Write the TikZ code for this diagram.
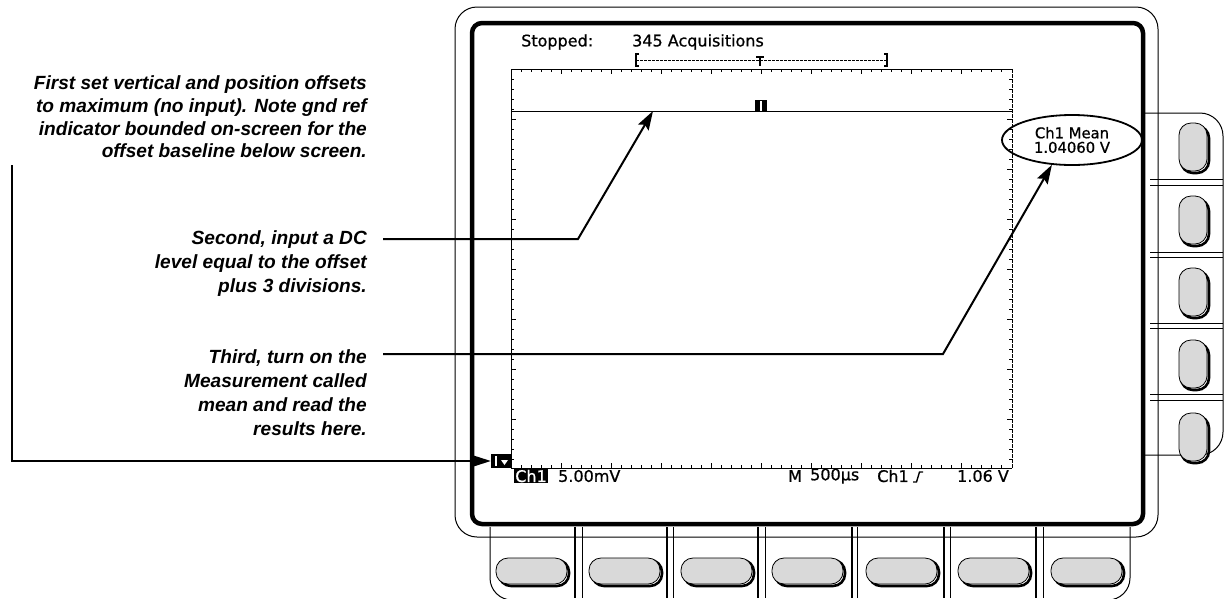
\documentclass[tikz,border=0pt]{standalone}
\usepackage{fontspec}
\setmainfont{Liberation Sans}
\newfontfamily\scrfont[FakeBold=0.8]{DejaVu Sans}
\usetikzlibrary{arrows.meta,shapes.geometric}
\tikzset{
  note/.style={font=\fontsize{19.1}{22.7}\selectfont\bfseries\itshape, align=right, inner sep=0pt},
  notewide/.style={font=\fontsize{19.1}{24}\selectfont\bfseries\itshape, align=right, inner sep=0pt},
  lead/.style={line width=2pt, -{Stealth[length=19pt,width=12pt,inset=3pt]}},
  scr/.style={font=\fontsize{16}{16}\selectfont\scrfont, inner sep=0pt},
  thinline/.style={line width=1pt},
  bezel/.style={line width=4.5pt},
  tick/.style={line width=0.7pt},
  pillshadow/.style={line width=2.6pt, rounded corners=12pt},
  pill/.style={line width=0.8pt, fill=black!15, rounded corners=12pt},
}
\begin{document}
\begin{tikzpicture}[x=1pt,y=-1pt]
\useasboundingbox (0,0) rectangle (1224,598);

% ---------- instrument body ----------
% outer thin bezel
\draw[thinline, rounded corners=22pt] (455,7) rectangle (1158,537);
% side button panel
\draw[thinline, rounded corners=23pt] (1143,113) -- (1223,113) -- (1223,455) -- (1143,455);
\foreach \ya/\yb in {179/185, 252/257, 323/328, 394/400} {
  \draw[thinline] (1150,\ya) -- (1223,\ya);
  \draw[thinline] (1150,\yb) -- (1223,\yb);
}
% bottom button panel
\draw[thinline, rounded corners=22pt] (490,527) -- (490,600) -- (1130,600) -- (1130,527);
\foreach \xa/\xb in {575/582, 667/673, 758/765, 852/857, 944/950, 1036/1043} {
  \draw[line width=1.4pt] (\xa,527) -- (\xa,598);
  \draw[thinline] (\xb,527) -- (\xb,598);
}
% thick inner bezel
\draw[bezel, rounded corners=10pt] (472,23) rectangle (1143,524);

% buttons
\foreach \cx in {532,625,717,808,902,994,1087} {
  \draw[pillshadow] (\cx-33,560) rectangle (\cx+37,586);
  \draw[pill] (\cx-36,558) rectangle (\cx+35,584);
}
\foreach \cy in {147,220,292,364,437} {
  \draw[pillshadow] (1181,\cy-21) rectangle (1209,\cy+26);
  \draw[pill] (1179,\cy-24) rectangle (1207,\cy+24);
}

% ---------- screen graticule ----------
\draw[line width=0.8pt] (511,69) -- (1012,69);
\draw[line width=1pt] (511,69) -- (511,468) -- (1012,468);
\draw[line width=0.8pt, dash pattern=on 4pt off 1pt] (1012,69) -- (1012,468);
\foreach \x in {521,531,...,1002} {
  \draw[tick] (\x,69) -- (\x,72);
  \draw[tick] (\x,468) -- (\x,465);
}
\foreach \x in {561,611,...,961} {
  \draw[tick] (\x,69) -- (\x,74);
  \draw[tick] (\x,468) -- (\x,463);
}
\foreach \y in {79,89,...,459} {
  \draw[tick] (511,\y) -- (514,\y);
  \draw[tick] (1012,\y) -- (1009,\y);
}
\foreach \y in {119,169,...,419} {
  \draw[tick] (511,\y) -- (516,\y);
  \draw[tick] (1012,\y) -- (1007,\y);
}

% waveform
\draw[line width=1pt] (511,111) -- (1012,111);
\coordinate (wave) at (653,111);
% ground reference marker on trace
\node[fill=black, minimum width=12pt, minimum height=12pt, inner sep=0pt] (gtop) at (761,106) {};
\draw[white, line width=2pt] (761,101) -- (761,111);

% record view bar
\draw[line width=0.8pt, dash pattern=on 3pt off 1pt] (636,60) -- (887,60);
\draw[line width=1.3pt] (639,54) -- (636,54) -- (636,66) -- (639,66);
\draw[line width=1.3pt] (884,54) -- (887,54) -- (887,66) -- (884,66);
\draw[line width=1.3pt] (756,57) -- (764,57);
\draw[line width=1.3pt] (760,57) -- (760,66);

% status text
\node[scr, anchor=west] (stopped) at (521,42) {Stopped:};
\node[scr, anchor=west] (acq) at (632,42) {345 Acquisitions};

% measurement readout
\node[draw, ellipse, line width=1.8pt, minimum width=140pt, minimum height=50pt, inner sep=0pt,
      align=center, font=\fontsize{14.8}{14.5}\selectfont\scrfont] (mean) at (1072,140) {Ch1 Mean\\1.04060 V};

% bottom readouts
\node[fill=black, minimum width=20pt, minimum height=14pt, inner sep=0pt] (gnd) at (501,461) {};
\draw[white, line width=1.5pt] (496,456) -- (496,466);
\fill[white] (501,460) -- (508,460) -- (504.5,465) -- cycle;
\node[scr, fill=black, text=white, inner sep=1pt] (chbox) at (531,476) {Ch1};
\node[scr, anchor=west] (volts) at (558,476) {5.00mV};
\node[scr, anchor=west] (mlabel) at (788,476) {M};
\node[scr, anchor=west] (time) at (810,476) {500µs};
\node[scr, anchor=west] (trigch) at (877,476) {Ch1};
\draw[line width=1.4pt] (913,482) -- (916.5,482) -- (919.5,472) -- (923,472);
\node[scr, anchor=west] (level) at (957,476) {1.06 V};

% ---------- notes ----------
\node[note, anchor=east] (n1) at (367,117) {First set vertical and position offsets\\to maximum (no input). Note gnd ref\\indicator bounded on-screen for the\\offset baseline below screen.};
\node[notewide, anchor=east] (n2) at (367,264) {Second, input a DC\\level equal to the offset\\plus 3 divisions.};
\node[notewide, anchor=east] (n3) at (367,393) {Third, turn on the\\Measurement called\\mean and read the\\results here.};

% connectors
\coordinate (c1a) at (12,165);
\coordinate (c1b) at (12,461);
\draw[lead] (c1a) -- (c1b) -- (gnd.west);
\coordinate (c2a) at (383,239);
\coordinate (c2b) at (578,239);
\draw[lead] (c2a) -- (c2b) -- (wave);
\coordinate (c3a) at (383,354);
\coordinate (c3b) at (943,354);
\draw[lead] (c3a) -- (c3b) -- (mean.-129);
\end{tikzpicture}
\end{document}
